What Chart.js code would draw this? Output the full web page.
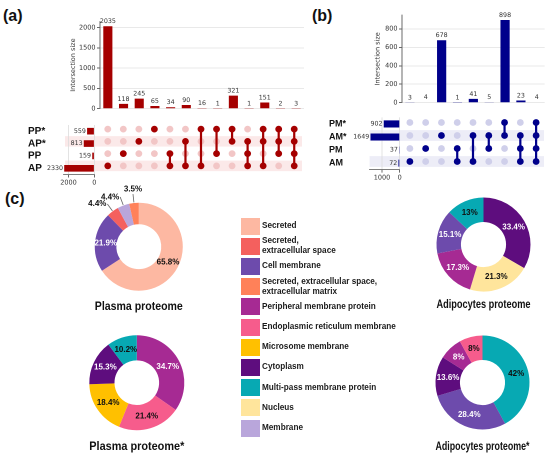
<!DOCTYPE html>
<html>
<head>
<meta charset="utf-8">
<script src="https://cdn.jsdelivr.net/npm/chart.js"></script>
<style>
  html, body { margin: 0; padding: 0; background: #fff; overflow: hidden; }
  #fig { position: relative; width: 550px; height: 457px; overflow: hidden; }
  .panel { position: absolute; font: bold 16px "Liberation Sans", Arial, sans-serif; color: #111; line-height: 16px; }
  .lg { position: absolute; left: 241px; height: 17px; width: 300px; }
  .lg .box { position: absolute; left: 0; top: 0; width: 19px; height: 17px; }
  .lg .txt { position: absolute; left: 21px; top: 0; height: 17px; display: flex; align-items: center;
             font: bold 8.2px "Liberation Sans", Arial, sans-serif; line-height: 10px; color: #1a1a1a; white-space: pre; }
</style>
</head>
<body>
<div id="fig">
  <div class="panel" style="left:3px;top:8px">(a)</div>
  <div class="panel" style="left:312px;top:8px">(b)</div>
  <div class="panel" style="left:5px;top:191px">(c)</div>
</div>
<script>
// upset (a)
const setsA = ['PP*', 'AP*', 'PP', 'AP'];
const setSizesA = [559, 813, 159, 2330];
const intersectA = [2035, 118, 245, 65, 34, 90, 16, 1, 321, 1, 151, 2, 3];
const membersA = [['AP'], ['PP'], ['AP*'], ['PP*'], ['PP', 'AP'], ['AP*', 'AP'], ['PP*', 'AP'], ['PP*', 'PP'],
  ['PP*', 'AP*'], ['AP*', 'PP', 'AP'], ['PP*', 'AP*', 'AP'], ['PP*', 'AP*', 'PP'], ['PP*', 'AP*', 'PP', 'AP']];
const barTicksA = [0, 500, 1000, 1500, 2000];
const sizeTicksA = [0, 2000];

// upset (b)
const setsB = ['PM*', 'AM*', 'PM', 'AM'];
const setSizesB = [902, 1649, 37, 72];
const intersectB = [3, 4, 678, 1, 41, 5, 898, 23, 4];
const membersB = [['AM'], ['PM'], ['AM*'], ['PM', 'AM'], ['AM*', 'AM'], ['AM*', 'PM'], ['PM*', 'AM*'],
  ['AM*', 'PM', 'AM'], ['PM*', 'AM*', 'PM', 'AM']];
const barTicksB = [0, 200, 400, 600, 800];
const sizeTicksB = [0, 1000];

// (c) localisation categories
const categories = ['Secreted', 'Secreted, extracellular space', 'Cell membrane',
  'Secreted, extracellular space, extracellular matrix', 'Peripheral membrane protein',
  'Endoplasmic reticulum membrane', 'Microsome membrane', 'Cytoplasm', 'Multi-pass membrane protein',
  'Nucleus', 'Membrane'];
const legendLabels = ['Secreted', 'Secreted,\nextracellular space', 'Cell membrane',
  'Secreted, extracellular space,\nextracellular matrix', 'Peripheral membrane protein',
  'Endoplasmic reticulum membrane', 'Microsome membrane', 'Cytoplasm', 'Multi-pass membrane protein',
  'Nucleus', 'Membrane'];
const catColors = ['#FDB8A2', '#F4605E', '#6D4BAC', '#FF8159', '#A62A93', '#F65C8C', '#FFC000',
  '#5E0D7E', '#07A9B3', '#FFE59C', '#B9A6DB'];

const plasmaCats = ['Secreted', 'Cell membrane', 'Secreted, extracellular space', 'Membrane',
  'Secreted, extracellular space, extracellular matrix'];
const plasmaVals = [65.8, 21.9, 4.4, 4.4, 3.5];
const adipoCats = ['Cytoplasm', 'Nucleus', 'Peripheral membrane protein', 'Cell membrane', 'Multi-pass membrane protein'];
const adipoVals = [33.4, 21.3, 17.3, 15.1, 13];
const plasmaStarCats = ['Peripheral membrane protein', 'Endoplasmic reticulum membrane', 'Microsome membrane',
  'Cytoplasm', 'Multi-pass membrane protein'];
const plasmaStarVals = [34.7, 21.4, 18.4, 15.3, 10.2];
const adipoStarCats = ['Multi-pass membrane protein', 'Cell membrane', 'Cytoplasm', 'Peripheral membrane protein',
  'Endoplasmic reticulum membrane'];
const adipoStarVals = [42, 28.4, 13.6, 8, 8];

const RED = '#A50000', RED_LIGHT = '#F2C6C6', RED_BAND = '#FBE9E9';
const BLUE = '#00008B', BLUE_LIGHT = '#CFCFEA', BLUE_BAND = '#EDEDF7';

Chart.defaults.font.family = '"DejaVu Sans", sans-serif';
Chart.defaults.animation = false;
Chart.defaults.responsive = false;
Chart.defaults.maintainAspectRatio = false;
Chart.defaults.events = [];
Chart.defaults.plugins.legend.display = false;
Chart.defaults.plugins.tooltip.enabled = false;

const fig = document.getElementById('fig');
function mk(left, top, w, h) {
  const c = document.createElement('canvas');
  c.width = w; c.height = h;
  c.style.cssText = `position:absolute;left:${left}px;top:${top}px;width:${w}px;height:${h}px`;
  fig.appendChild(c);
  return c;
}

// numbers above / beside the upset bars
Chart.register({
  id: 'valueLabels',
  afterDatasetsDraw(chart, args, opts) {
    if (!opts.show) return;
    const ctx = chart.ctx;
    const horiz = chart.options.indexAxis === 'y';
    const vals = chart.data.datasets[0].data;
    ctx.save();
    ctx.font = '6.3px "DejaVu Sans"';
    ctx.fillStyle = '#333';
    chart.getDatasetMeta(0).data.forEach((bar, i) => {
      if (horiz) {
        ctx.textAlign = 'right'; ctx.textBaseline = 'middle';
        ctx.fillText(vals[i], bar.x - 1.2, bar.y);
      } else {
        ctx.textAlign = 'center'; ctx.textBaseline = 'bottom';
        ctx.fillText(vals[i], bar.x, bar.y - 1.5);
      }
    });
    ctx.restore();
  }
});

// shaded rows behind the matrix
Chart.register({
  id: 'rowBands',
  beforeDatasetsDraw(chart, args, opts) {
    if (!opts.rows) return;
    const { ctx, chartArea } = chart;
    const y = chart.scales.y;
    ctx.save();
    ctx.fillStyle = opts.color;
    opts.rows.forEach(r => {
      const py = y.getPixelForValue(r);
      ctx.fillRect(opts.from, py - opts.height / 2, chartArea.right - opts.from, opts.height);
    });
    ctx.restore();
  }
});

function lum(hex) {
  const n = parseInt(hex.slice(1), 16);
  return 0.299 * (n >> 16) + 0.587 * ((n >> 8) & 255) + 0.114 * (n & 255);
}

// percentage labels on the doughnuts
Chart.register({
  id: 'donutLabels',
  afterDatasetsDraw(chart, args, opts) {
    if (!opts.show) return;
    const ctx = chart.ctx;
    const ds = chart.data.datasets[0];
    ctx.save();
    ctx.font = 'bold 8px "Liberation Sans", Arial';
    chart.getDatasetMeta(0).data.forEach((arc, i) => {
      const p = arc.getProps(['x', 'y', 'startAngle', 'endAngle', 'innerRadius', 'outerRadius'], true);
      const mid = (p.startAngle + p.endAngle) / 2;
      const cos = Math.cos(mid), sin = Math.sin(mid);
      const v = ds.data[i];
      const txt = v + '%';
      if (v < 5) {
        const r1 = p.outerRadius + 0.5, r2 = p.outerRadius + 9;
        const ex = p.x + cos * r2, ey = p.y + sin * r2;
        ctx.strokeStyle = '#666'; ctx.lineWidth = 0.8;
        ctx.beginPath(); ctx.moveTo(p.x + cos * r1, p.y + sin * r1); ctx.lineTo(ex, ey); ctx.stroke();
        ctx.fillStyle = '#111';
        if (cos < -0.3) { ctx.textAlign = 'right'; ctx.textBaseline = 'middle'; ctx.fillText(txt, ex - 1, ey); }
        else if (cos > 0.3) { ctx.textAlign = 'left'; ctx.textBaseline = 'middle'; ctx.fillText(txt, ex + 1, ey); }
        else { ctx.textAlign = 'center'; ctx.textBaseline = sin < 0 ? 'bottom' : 'top'; ctx.fillText(txt, ex, ey + (sin < 0 ? -0.5 : 0.5)); }
      } else {
        const r = (p.innerRadius + p.outerRadius) / 2;
        ctx.fillStyle = lum(ds.backgroundColor[i]) > 110 ? '#111' : '#fff';
        ctx.textAlign = 'center'; ctx.textBaseline = 'middle';
        ctx.fillText(txt, p.x + cos * r, p.y + sin * r);
      }
    });
    ctx.restore();
  }
});

function matrixDatasets(sets, members, dark, light) {
  const lightPts = [], darkPts = [], lines = [];
  members.forEach((m, c) => {
    sets.forEach((s, r) => (m.includes(s) ? darkPts : lightPts).push({ x: c, y: r }));
    if (m.length > 1) {
      const rows = m.map(s => sets.indexOf(s));
      lines.push({ data: [{ x: c, y: Math.min(...rows) }, { x: c, y: Math.max(...rows) }],
        showLine: true, borderColor: dark, borderWidth: 2.2, pointRadius: 0, order: 2 });
    }
  });
  return [
    { data: lightPts, backgroundColor: light, pointRadius: 3.4, borderWidth: 0, pointBorderWidth: 0, order: 3 },
    ...lines,
    { data: darkPts, backgroundColor: dark, pointRadius: 3.4, borderWidth: 0, pointBorderWidth: 0, order: 1 }
  ];
}

const fixedTicks = list => s => { s.ticks = list.map(v => ({ value: v })); };

function intersectionChart(canvas, values, color, pad, yMax, tickList, titlePad) {
  return new Chart(canvas, {
    type: 'bar',
    data: { labels: values.map((v, i) => 'c' + i),
      datasets: [{ data: values, backgroundColor: color, barPercentage: 0.58, categoryPercentage: 1 }] },
    options: {
      devicePixelRatio: 2,
      layout: { padding: pad },
      plugins: { valueLabels: { show: true } },
      scales: {
        x: { display: false },
        y: {
          min: 0, max: yMax,
          afterBuildTicks: fixedTicks(tickList),
          afterFit: s => { s.width = 40; },
          ticks: { font: { size: 6.5 }, color: '#333', padding: 1.5, callback: v => String(v) },
          grid: { color: '#e2e2e2', lineWidth: 0.8, tickLength: 3, tickColor: '#444' },
          border: { color: '#444', width: 0.8 },
          title: { display: true, text: 'Intersection size', font: { size: 6.5 }, color: '#333',
            padding: { top: titlePad, bottom: 0 } }
        }
      }
    }
  });
}

function matrixChart(canvas, sets, members, dark, light, band, pad, bandFrom, bandH) {
  return new Chart(canvas, {
    type: 'scatter',
    data: { datasets: matrixDatasets(sets, members, dark, light) },
    options: {
      devicePixelRatio: 2,
      layout: { padding: pad },
      plugins: { rowBands: { rows: [1, 3], color: band, from: bandFrom, height: bandH } },
      scales: {
        x: { display: false, min: -0.5, max: members.length - 0.5 },
        y: { display: false, min: -0.5, max: sets.length - 0.5, reverse: true }
      }
    }
  });
}

function setSizeChart(canvas, sets, sizes, color, pad, yWidth, xMax, tickList, labelSize) {
  return new Chart(canvas, {
    type: 'bar',
    data: { labels: sets, datasets: [{ data: sizes, backgroundColor: color, barPercentage: 0.54, categoryPercentage: 1 }] },
    options: {
      devicePixelRatio: 2,
      indexAxis: 'y',
      layout: { padding: pad },
      plugins: { valueLabels: { show: true } },
      scales: {
        y: {
          afterFit: s => { s.width = yWidth; },
          grid: { display: false }, border: { display: false },
          ticks: { autoSkip: false, crossAlign: 'far', padding: 0, color: '#111',
            font: { family: '"Liberation Sans", Arial', weight: 'bold', size: labelSize } }
        },
        x: {
          reverse: true, min: 0, max: xMax,
          afterBuildTicks: fixedTicks(tickList),
          afterFit: s => { s.height = 14; },
          ticks: { font: { size: 6.5 }, color: '#333', padding: 1.5, maxRotation: 0, callback: v => String(v) },
          grid: { color: '#dcdcdc', lineWidth: 0.8, tickLength: 3, tickColor: '#444' },
          border: { color: '#555', width: 0.8 }
        }
      }
    }
  });
}

// (a)
intersectionChart(mk(60, 10, 246, 104), intersectA, RED, { left: 0, right: 2, top: 11.6, bottom: 0.7 }, 2150, barTicksA, 9.4);
matrixChart(mk(63, 119, 243, 57), setsA, membersA, RED, RED_LIGHT, RED_BAND,
  { left: 37, right: 2, top: 0.87, bottom: 1.5 }, 2, 10.5);
setSizeChart(mk(28, 119, 72, 71), setsA, setSizesA, RED, { left: 0, right: 5.7, top: 0.87, bottom: 1.5 }, 35.3, 2400, sizeTicksA, 10);

// (b)
intersectionChart(mk(362, 4, 186, 104), intersectB, BLUE, { left: 0, right: 3.3, top: 11.2, bottom: 1.0 }, 950, barTicksB, 12.1);
matrixChart(mk(367, 112, 181, 60), setsB, membersB, BLUE, BLUE_LIGHT, BLUE_BAND,
  { left: 35, right: 3.3, top: 1.25, bottom: 2.35 }, 2.6, 10.7);
setSizeChart(mk(329, 112, 76, 74), setsB, setSizesB, BLUE, { left: 0, right: 5.3, top: 1.25, bottom: 2.35 }, 40.6, 1700, sizeTicksB, 9);

// (c) doughnuts
function donut(cats, vals, title, cx, cy, R, cutout, titleY) {
  const fs = 11.6, lh = fs * 1.2;
  const left = Math.floor(cx - R - 40), right = Math.ceil(cx + R + 40);
  const top = Math.floor(cy - R - 24), bottom = Math.ceil(titleY + lh / 2 + 3);
  const pad = { left: cx - R - left, right: right - (cx + R), top: cy - R - top, bottom: bottom - (titleY + lh / 2) };
  return new Chart(mk(left, top, right - left, bottom - top), {
    type: 'doughnut',
    data: { labels: cats, datasets: [{ data: vals, backgroundColor: cats.map(c => catColors[categories.indexOf(c)]),
      borderWidth: 0, hoverOffset: 0 }] },
    options: {
      devicePixelRatio: 2,
      cutout: cutout,
      layout: { padding: pad },
      plugins: {
        donutLabels: { show: true },
        title: { display: true, position: 'bottom', text: title, color: '#111',
          font: { family: '"Liberation Sans", Arial', weight: 'bold', size: fs, lineHeight: 1.2 },
          padding: { top: titleY - (cy + R) - lh / 2, bottom: 0 } }
      }
    }
  });
}

donut(plasmaCats, plasmaVals, 'Plasma proteome', 138.8, 246.7, 44, '51%', 306.7);
donut(adipoCats, adipoVals, 'Adipocytes proteome', 483.5, 244.5, 47, '48%', 305);
donut(plasmaStarCats, plasmaStarVals, 'Plasma proteome*', 136.8, 382.7, 47.5, '47%', 446.7);
donut(adipoStarCats, adipoStarVals, 'Adipocytes proteome*', 482.5, 382.5, 47, '48%', 446.7);

// legend shared by the four doughnuts
categories.forEach((c, i) => {
  const d = document.createElement('div');
  d.className = 'lg';
  d.style.top = (217.5 + i * 20.2) + 'px';
  d.innerHTML = `<div class="box" style="background:${catColors[i]}"></div><div class="txt"></div>`;
  d.querySelector('.txt').textContent = legendLabels[i];
  fig.appendChild(d);
});
</script>
</body>
</html>
